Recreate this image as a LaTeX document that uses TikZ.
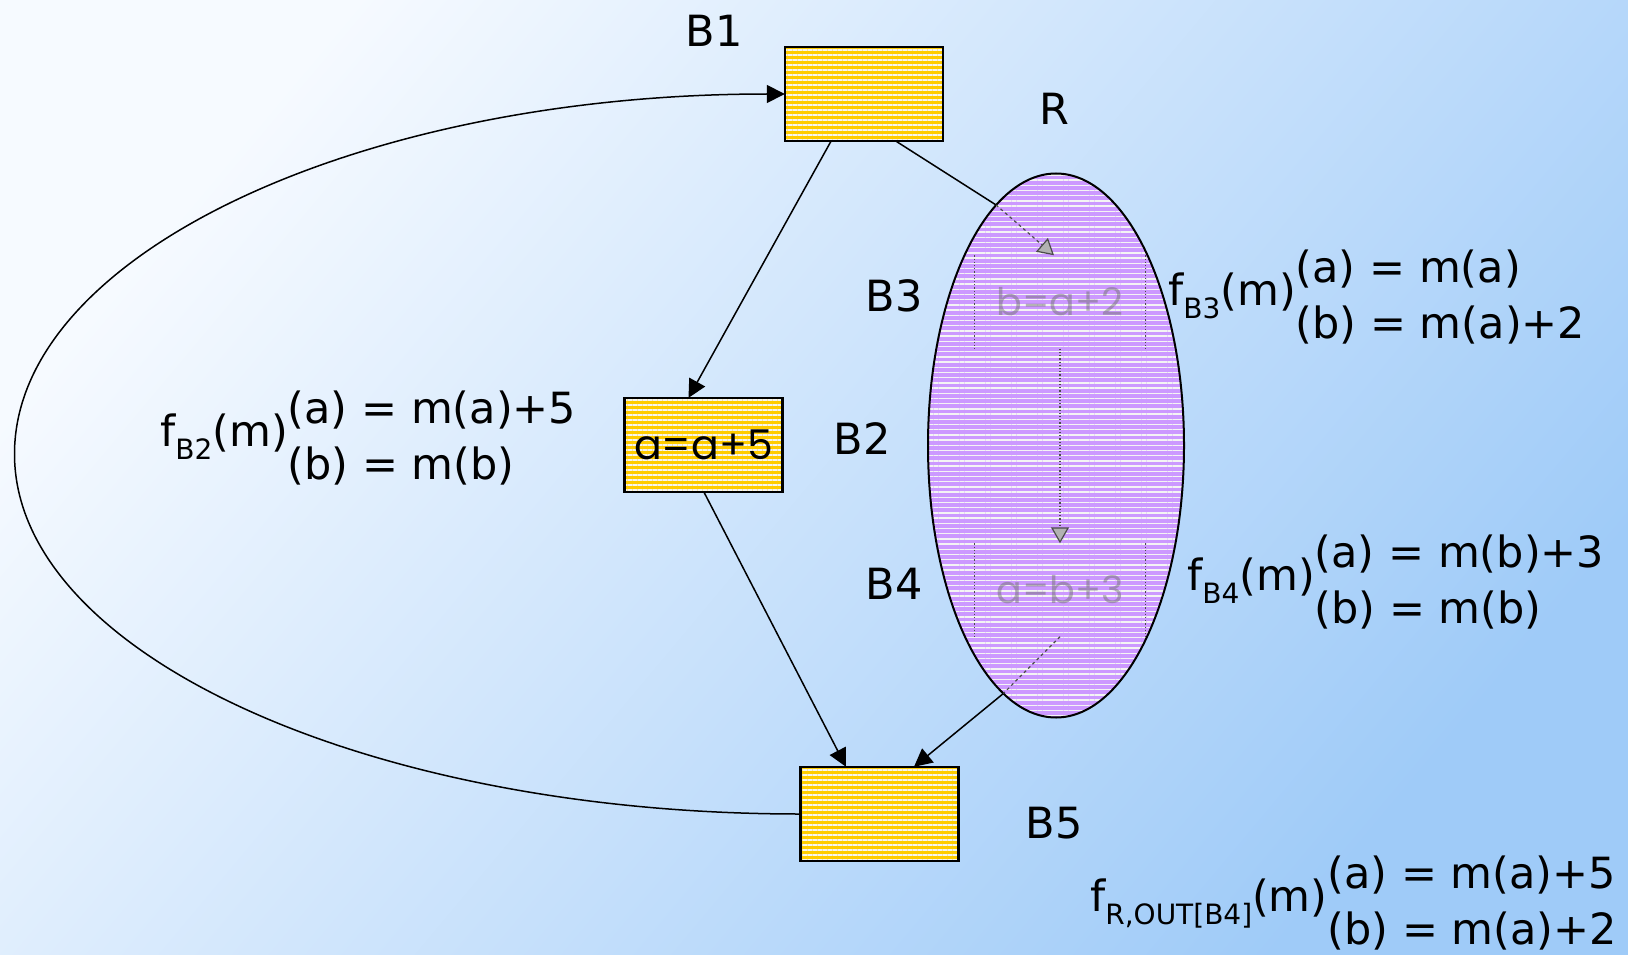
\documentclass[tikz,border=0pt]{standalone}
\usepackage{fontspec}
\setmainfont{DejaVu Sans}
\newfontfamily\boxfont{Poppins}
\usetikzlibrary{arrows.meta,patterns.meta,shapes.geometric}
\definecolor{bgA}{HTML}{F6FAFF}
\definecolor{bgB}{HTML}{9FCBF8}
\definecolor{gold}{HTML}{FFCC00}
\definecolor{lav}{HTML}{CC99FF}
\definecolor{stripe}{HTML}{F4F4F4}
\newcommand{\fsub}[1]{\raisebox{-0.32em}{\fontsize{28}{28}\selectfont #1}}
\newcommand{\flabel}[3]{f\fsub{#1}(m)\begin{tabular}{@{}l@{}}#2\\#3\end{tabular}}
\begin{document}
\begin{tikzpicture}[x=1pt,y=-1pt,
  blk/.style={inner sep=0pt, minimum width=158pt, minimum height=94pt, fill=gold,
    postaction={pattern={Lines[angle=0,distance=5pt,line width=1.4pt]}, pattern color=stripe},
    postaction={draw=black, line width=2.5pt}},
  reg/.style={ellipse, inner sep=0pt, minimum width=256pt, minimum height=544pt, fill=lav,
    postaction={pattern={Lines[angle=0,distance=5.2pt,line width=1.4pt]}, pattern color=stripe},
    postaction={draw=black, line width=2pt}},
  inner/.style={inner sep=0pt, minimum width=171pt, minimum height=93pt,
    font=\boxfont\fontsize{38}{38}\selectfont, text=black!55, text opacity=0.5},
  innerln/.style={black!70, line width=1.2pt, dotted},
  innerarr/.style={black!70, line width=1.2pt, -{Triangle[length=16pt,width=18pt,fill=black!30]}},
  arr/.style={line width=1.5pt, -{Triangle[length=18pt,width=18pt]}},
  ln/.style={line width=1.5pt},
  lbl/.style={font=\fontsize{43}{43}\selectfont, inner sep=0pt},
  fml/.style={font=\fontsize{43}{56}\selectfont, inner sep=0pt, anchor=west}]
\useasboundingbox (0,0) rectangle (1628,955);
\shade[top color=bgA, bottom color=bgB, shading angle=50] (0,0) rectangle (1628,955);

% region R
\node[reg] (R) at (1056,445.5) {};
\node[inner] (B3in) at (1060,302) {b=a+2};
\node[inner] (B4in) at (1060,590) {a=b+3};
\draw[innerln] (B3in.north west) -- (B3in.south west);
\draw[innerln] (B3in.north east) -- (B3in.south east);
\draw[innerln] (B4in.north west) -- (B4in.south west);
\draw[innerln] (B4in.north east) -- (B4in.south east);
\draw[innerarr, dotted] (B3in.south) -- (B4in.north);
\coordinate (e1) at (R.104);
\coordinate (e2) at (R.258);
\draw[innerarr, dashed] (e1) -- ([xshift=-6pt]B3in.north);
\draw[black!70, line width=1.2pt, dashed] (B4in.south) -- (e2);

% blocks
\node[blk] (B1) at (864,94) {};
\node[blk, font=\boxfont\fontsize{41}{41}\selectfont] (B2) at (703.5,445) {a=a+5};
\node[blk] (B5) at (879.5,814) {};

% connectors
\draw[arr] ([xshift=-33pt]B1.south) -- ([xshift=-15pt]B2.north);
\draw[arr] ([xshift=0.5pt]B2.south) -- ([xshift=-33.5pt]B5.north);
\draw[ln] ([xshift=32pt]B1.south) -- (e1);
\draw[arr] (e2) -- ([xshift=34.5pt]B5.north);
\draw[arr] (B5.west) .. controls (365,814) and (14.5,653) .. (14.5,454)
  .. controls (14.5,255) and (358,94) .. (B1.west);

% labels
\node[lbl] (lB1) at (714,31) {B1};
\node[lbl] (lR) at (1054,109) {R};
\node[lbl] (lB3) at (894,296) {B3};
\node[lbl] (lB2) at (862,439) {B2};
\node[lbl] (lB4) at (894,584) {B4};
\node[lbl] (lB5) at (1054,823) {B5};

% transfer functions
\node[fml] (fB3) at (1168,299) {\flabel{B3}{(a) = m(a)}{(b) = m(a)+2}};
\node[fml] (fB2) at (160,440) {\flabel{B2}{(a) = m(a)+5}{(b) = m(b)}};
\node[fml] (fB4) at (1187,584) {\flabel{B4}{(a) = m(b)+3}{(b) = m(b)}};
\node[fml] (fR) at (1090,905) {\flabel{R,OUT[B4]}{(a) = m(a)+5}{(b) = m(a)+2}};
\end{tikzpicture}
\end{document}
